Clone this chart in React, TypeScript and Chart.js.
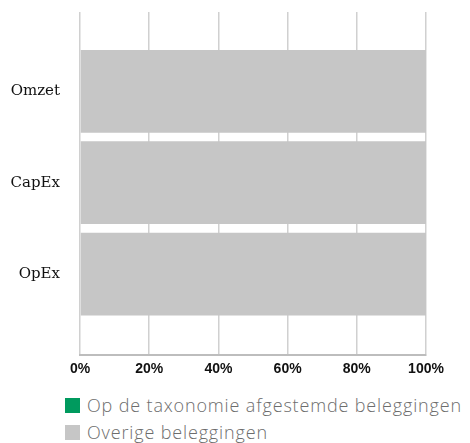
import React, { useEffect, useRef } from "react";
import { Chart, registerables } from "chart.js";

Chart.register(...registerables);

const categories = ["Omzet", "CapEx", "OpEx"];
const alignedValues = [0, 0, 0];
const otherValues = [100, 100, 100];
const seriesNames = ["Op de taxonomie afgestemde beleggingen", "Overige beleggingen"];
const seriesColors = ["#009a5e", "#c6c6c6"];
const xTicks = [0, 20, 40, 60, 80, 100];

export default function App() {
  const canvasRef = useRef<HTMLCanvasElement>(null);

  useEffect(() => {
    const canvas = canvasRef.current;
    if (!canvas) return;
    const chart = new Chart(canvas, {
      type: "bar",
      data: {
        datasets: [
          {
            label: seriesNames[0],
            data: alignedValues.map((v, i) => ({ x: v, y: i })),
            backgroundColor: seriesColors[0],
            barPercentage: 0.905,
            categoryPercentage: 1,
          },
          {
            label: seriesNames[1],
            data: otherValues.map((v, i) => ({ x: v, y: i })),
            backgroundColor: seriesColors[1],
            barPercentage: 0.905,
            categoryPercentage: 1,
          },
        ],
      },
      options: {
        indexAxis: "y",
        animation: false,
        responsive: true,
        maintainAspectRatio: false,
        layout: { padding: { top: 4, right: 36, left: 0, bottom: 0 } },
        plugins: {
          legend: { display: false },
          tooltip: { enabled: false },
        },
        scales: {
          x: {
            type: "linear",
            stacked: true,
            min: xTicks[0],
            max: xTicks[xTicks.length - 1],
            ticks: {
              stepSize: 20,
              padding: 6,
              color: "#111",
              font: { family: "'Liberation Sans', Arial, sans-serif", size: 14, weight: "bold" },
              callback: (v: any) => v + "%",
              maxRotation: 0,
            },
            grid: { color: "#d0d0d0", lineWidth: 1.5, drawTicks: false },
            border: { display: true, color: "#bdbdbd", width: 2 },
          },
          y: {
            type: "linear",
            stacked: true,
            reverse: true,
            offset: false,
            min: -0.868,
            max: 2.887,
            afterFit: (scale: any) => {
              scale.width = 72;
              scale.paddingTop = 0;
              scale.paddingBottom = 0;
            },
            ticks: {
              stepSize: 1,
              includeBounds: false,
              padding: 20,
              color: "#111",
              font: { family: "'DejaVu Serif', serif", size: 15 },
              callback: (v: any) =>
                Number.isInteger(v) && v >= 0 && v < categories.length ? categories[v] : "",
            },
            grid: { display: false, drawTicks: false, offset: false },
            border: { display: false },
          },
        },
      },
    } as any);
    return () => chart.destroy();
  }, []);

  return (
    <div style={{ width: 454 }}>
      <div style={{ position: "relative", width: 454, height: 376 }}>
        <canvas ref={canvasRef} />
      </div>
      <div
        style={{
          marginLeft: 57,
          paddingTop: 10,
          fontFamily: "'Open Sans', sans-serif",
          fontWeight: 300,
          fontSize: 18,
          letterSpacing: 0.85,
          lineHeight: "22px",
          color: "#6d6d6d",
          whiteSpace: "nowrap",
        }}
      >
        {seriesNames.map((name, i) => (
          <div
            key={name}
            style={{ display: "flex", alignItems: "center", height: 22, marginTop: i === 0 ? 0 : 5 }}
          >
            <span
              style={{
                display: "inline-block",
                flexShrink: 0,
                width: 15,
                height: 15,
                background: seriesColors[i],
                marginRight: 7,
              }}
            />
            <span>{name}</span>
          </div>
        ))}
      </div>
    </div>
  );
}
